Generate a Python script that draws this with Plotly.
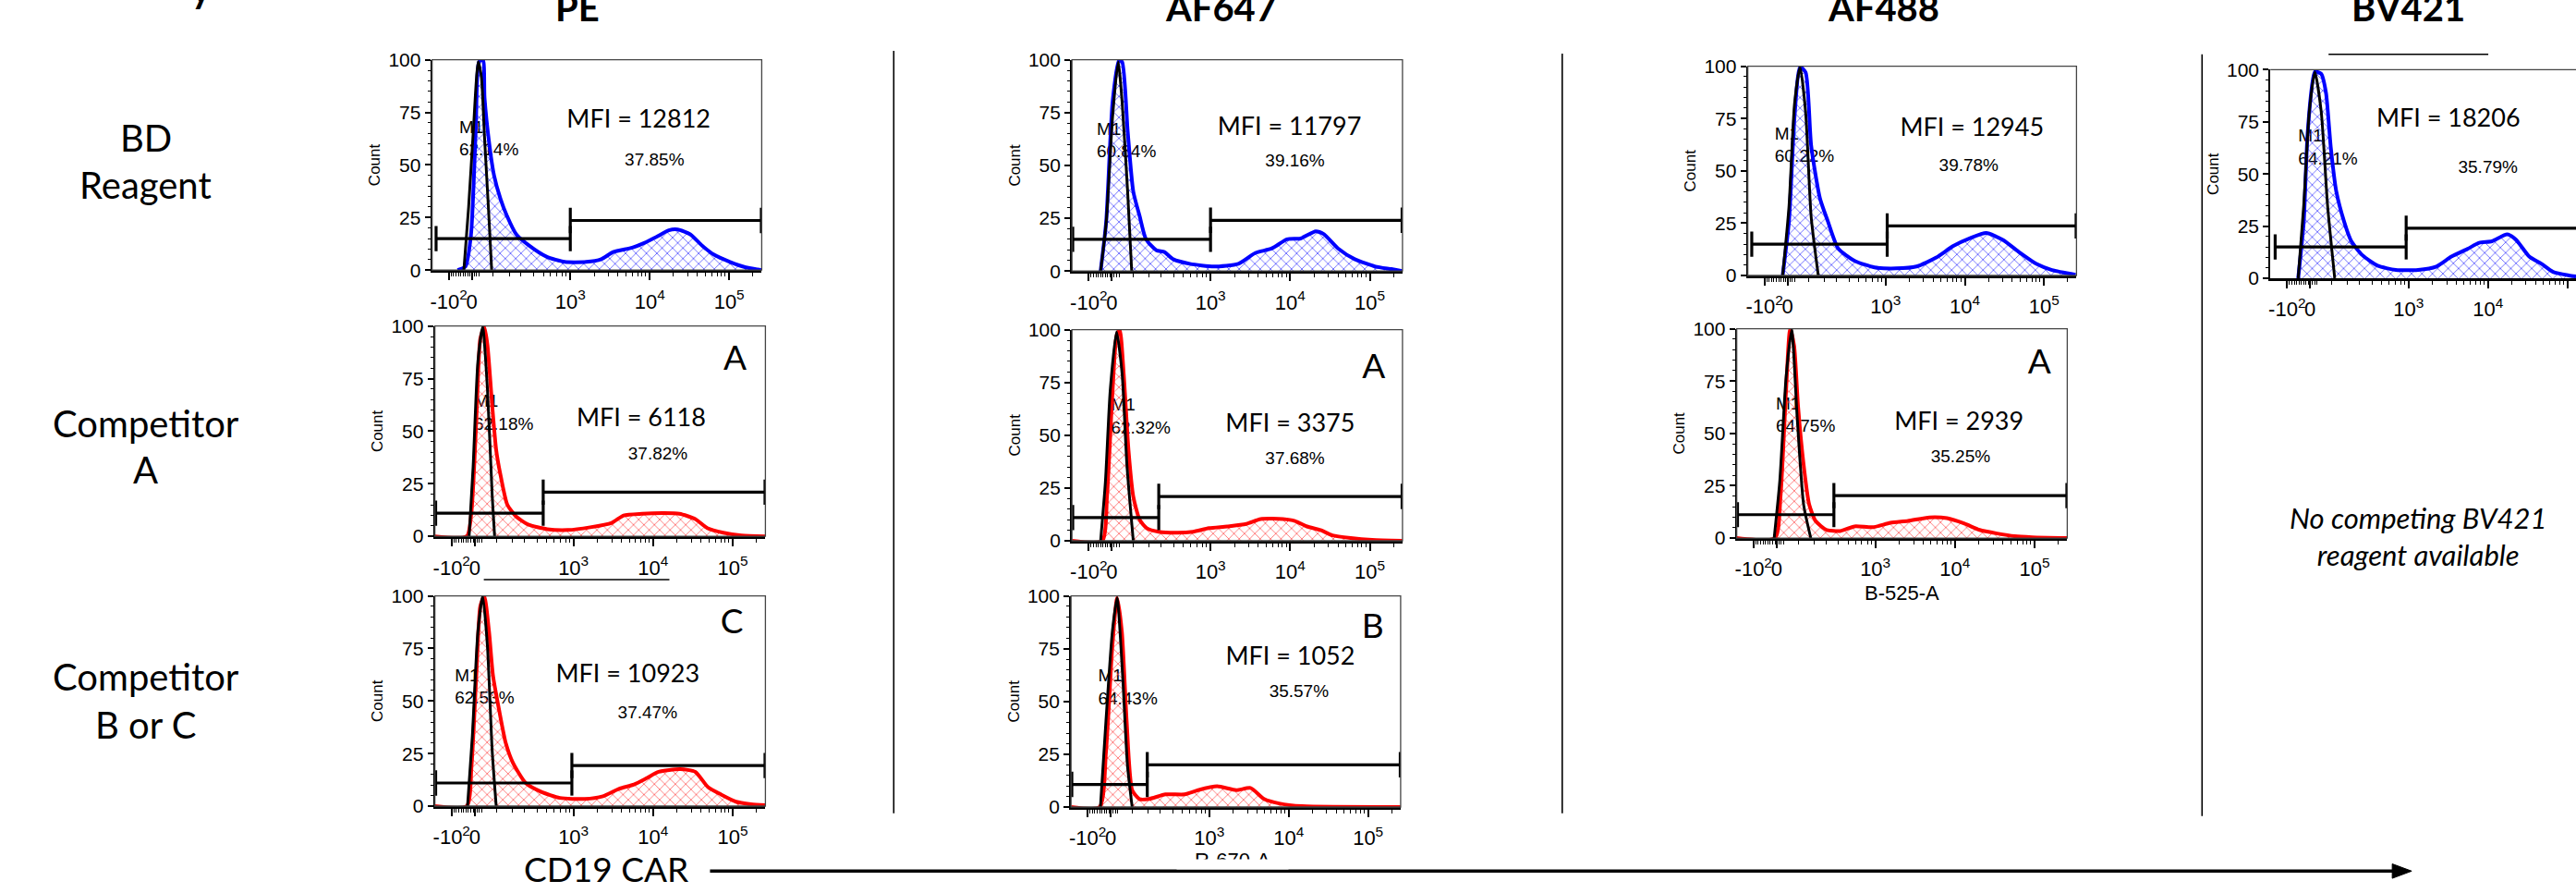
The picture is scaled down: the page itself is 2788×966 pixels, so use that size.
import plotly.graph_objects as go

W, H = 2788, 966

# ---------------- DATA ----------------
# x in display units of the biexponential axis (10^3 -> 3, 10^4 -> 4, 10^5 -> 5), y = Count (% of max)
pe_bd_u = [1.58, 1.68, 1.75, 1.81, 1.85, 1.90, 1.92, 1.98, 2.04, 2.12, 2.20, 2.32, 2.47, 2.70, 2.93, 3.20, 3.39, 3.54, 3.78, 3.93, 4.09, 4.24, 4.35, 4.51, 4.66, 4.81, 5.01, 5.21, 5.36, 5.41]
pe_bd_c = [0, 1.7, 17, 67, 99, 100, 82, 60, 45, 34, 26, 17, 12, 6.4, 3.9, 3.9, 5.2, 8.6, 10.7, 12.9, 15.9, 18.9, 19.3, 17, 11.6, 7.3, 3.9, 1.3, 0.3, 0]
pe_bd_iso_u = [1.66, 1.72, 1.78, 1.84, 1.88, 1.92, 1.97, 2.01]
pe_bd_iso_c = [0, 30, 67, 99, 92, 63, 29, 0]

af647_bd_u = [1.62, 1.69, 1.77, 1.85, 1.89, 1.96, 2.03, 2.11, 2.19, 2.32, 2.42, 2.53, 2.74, 3.04, 3.35, 3.56, 3.77, 3.96, 4.13, 4.32, 4.42, 4.60, 4.81, 5.07, 5.27, 5.41]
af647_bd_c = [0, 23.5, 80, 99.6, 99, 66, 37.6, 26, 15, 9.8, 9, 5.6, 3.4, 2.1, 3.4, 8.5, 10.7, 15, 15.4, 18.8, 17.5, 10.7, 5.6, 2.1, 0.9, 0]
af647_bd_iso_u = [1.62, 1.69, 1.77, 1.84, 1.89, 1.96, 2.01]
af647_bd_iso_c = [0, 23, 73, 99, 80, 37, 0]

af488_bd_u = [1.70, 1.78, 1.85, 1.92, 1.99, 2.06, 2.17, 2.27, 2.40, 2.61, 2.86, 3.13, 3.39, 3.64, 3.85, 4.06, 4.27, 4.48, 4.69, 4.90, 5.10, 5.40]
af488_bd_c = [0, 26, 76, 99.6, 97, 62, 37, 26, 13, 7, 3.9, 3.4, 4.3, 8.6, 14, 17.7, 20.3, 17, 11, 5.6, 2.6, 0.4]
af488_bd_iso_u = [1.70, 1.78, 1.85, 1.92, 1.99, 2.06, 2.15]
af488_bd_iso_c = [0, 33, 82, 99.6, 78, 28, 0]

bv421_bd_u = [1.61, 1.68, 1.73, 1.82, 1.90, 1.96, 2.02, 2.09, 2.19, 2.28, 2.42, 2.61, 2.84, 3.12, 3.35, 3.54, 3.74, 3.89, 4.05, 4.24, 4.35, 4.52, 4.67, 4.82, 5.02, 5.11]
bv421_bd_c = [0, 27, 70, 99, 98, 89, 63, 41.6, 27, 17.7, 11, 6, 4, 4, 5.6, 10.4, 14, 17, 17.7, 21, 18.6, 10.4, 7, 3, 1.3, 0.8]
bv421_bd_iso_u = [1.61, 1.68, 1.75, 1.82, 1.90, 1.98, 2.07]
bv421_bd_iso_c = [0, 35, 80, 99, 80, 35, 0]

pe_a_u = [1.26, 1.66, 1.72, 1.78, 1.83, 1.88, 1.92, 1.98, 2.03, 2.09, 2.17, 2.28, 2.43, 2.67, 2.93, 3.21, 3.48, 3.63, 3.86, 4.14, 4.33, 4.53, 4.68, 4.88, 5.11, 5.41]
pe_a_c = [0, 0, 12, 55, 94, 99.6, 91, 62, 41, 28, 15, 9.4, 5.6, 3.4, 3, 4.3, 6.4, 9.9, 10.7, 11, 10.7, 8.2, 3.9, 1.7, 0.4, 0]
pe_a_iso_u = [1.69, 1.74, 1.80, 1.86, 1.92, 1.98, 2.01]
pe_a_iso_c = [0, 33, 83, 99.6, 70, 19, 0]

af647_a_u = [1.26, 1.64, 1.70, 1.76, 1.82, 1.86, 1.91, 1.97, 2.03, 2.11, 2.20, 2.35, 2.59, 2.78, 2.98, 3.21, 3.45, 3.63, 3.91, 4.06, 4.21, 4.38, 4.53, 4.76, 5.03, 5.41]
af647_a_c = [0, 0, 21, 64, 97, 100, 79, 43, 21, 10, 6, 4.3, 3.8, 4.3, 6, 6.8, 8, 10.3, 10.3, 9.4, 6.8, 5.1, 2.6, 1.3, 0.4, 0]
af647_a_iso_u = [1.62, 1.68, 1.74, 1.82, 1.89, 1.95, 2.03]
af647_a_iso_c = [0, 28, 71, 99, 79, 36, 0]

af488_a_u = [1.26, 1.74, 1.81, 1.88, 1.93, 1.98, 2.03, 2.10, 2.17, 2.25, 2.39, 2.56, 2.74, 2.97, 3.19, 3.41, 3.68, 3.90, 4.12, 4.31, 4.53, 4.75, 4.97, 5.41]
af488_a_c = [0, 0, 20, 71, 99.6, 92, 63, 35, 16, 8.2, 3.9, 3.4, 5.6, 5.2, 7.3, 8.2, 9.9, 9.5, 6.9, 3.9, 2.2, 0.9, 0.4, 0]
af488_a_iso_u = [1.73, 1.80, 1.88, 1.95, 2.02, 2.10, 2.19]
af488_a_iso_c = [0, 27, 77, 99.6, 57, 16, 0]

pe_c_u = [1.26, 1.66, 1.72, 1.78, 1.83, 1.88, 1.94, 1.99, 2.07, 2.15, 2.24, 2.40, 2.59, 2.83, 3.14, 3.37, 3.57, 3.76, 3.92, 4.07, 4.34, 4.53, 4.69, 4.85, 5.04, 5.23, 5.41]
pe_c_c = [0, 0, 19, 62, 95, 100, 83, 62, 45, 30, 20.6, 11, 6.9, 3.9, 3.4, 4.7, 8.2, 10.3, 13.3, 16.3, 17.6, 16.3, 9, 5.6, 2.1, 0.9, 0.4]
pe_c_iso_u = [1.67, 1.73, 1.80, 1.86, 1.92, 1.98, 2.03]
pe_c_iso_c = [0, 33, 83, 100, 76, 26, 0]

af647_b_u = [1.26, 1.62, 1.70, 1.78, 1.84, 1.90, 1.96, 2.03, 2.12, 2.24, 2.45, 2.69, 2.86, 3.10, 3.34, 3.52, 3.69, 3.88, 4.17, 5.41]
af647_b_c = [0, 0, 26, 76, 99, 83, 41, 8, 3.8, 3.8, 6, 6, 8, 9.8, 8, 9, 3.8, 1.7, 0.4, 0]
af647_b_iso_u = [1.63, 1.70, 1.78, 1.84, 1.91, 1.97, 2.03]
af647_b_iso_c = [0, 41, 83, 99, 62, 20, 0]

fluorochromes = ["PE", "AF647", "AF488", "BV421"]
row_label_lines = ["BD", "Reagent", "Competitor", "A", "Competitor", "B or C"]
reagent_source = ["BD", "BD", "BD", "BD", "Comp", "Comp", "Comp", "Comp", "Comp"]
competitor_letter = ["", "", "", "", "A", "A", "A", "C", "B"]
mfi_values = [12812, 11797, 12945, 18206, 6118, 3375, 2939, 10923, 1052]
m1_pct = ["62.14%", "60.84%", "60.22%", "64.21%", "62.18%", "62.32%", "64.75%", "62.53%", "64.43%"]
pos_pct = ["37.85%", "39.16%", "39.78%", "35.79%", "37.82%", "37.68%", "35.25%", "37.47%", "35.57%"]
gate_start = [1.31, 1.27, 1.31, 1.32, 1.27, 1.27, 1.27, 1.27, 1.27]
gate_split = [3.00, 3.00, 3.02, 2.97, 2.62, 2.35, 2.48, 2.98, 2.22]
gate_end = [5.405, 5.405, 5.405, 5.405, 5.405, 5.405, 5.405, 5.405, 5.405]
gate_neg_level = [15, 15, 15, 15, 11, 11, 11.2, 11, 10.7]
gate_pos_level = [23.6, 24, 23.7, 24, 21, 21, 20.3, 19.3, 20]

x_tick_vals = [1.47, 1.76, 3, 4, 5]
x_tick_text = ["-10<sup>2</sup>", "0", "10<sup>3</sup>", "10<sup>4</sup>", "10<sup>5</sup>"]
x_minor_vals = [1.50, 1.53, 1.56, 1.59, 1.62, 1.65, 1.68, 1.71, 1.74, 1.79, 1.82, 1.85,
                2.03, 2.23, 2.38, 2.54, 2.66, 2.75, 2.83, 2.90, 2.95,
                3.30, 3.48, 3.60, 3.70, 3.78, 3.85, 3.90, 3.95,
                4.30, 4.48, 4.60, 4.70, 4.78, 4.85, 4.90, 4.95, 5.30]

sample_u = [pe_bd_u, af647_bd_u, af488_bd_u, bv421_bd_u, pe_a_u, af647_a_u, af488_a_u, pe_c_u, af647_b_u]
sample_c = [pe_bd_c, af647_bd_c, af488_bd_c, bv421_bd_c, pe_a_c, af647_a_c, af488_a_c, pe_c_c, af647_b_c]
iso_u = [pe_bd_iso_u, af647_bd_iso_u, af488_bd_iso_u, bv421_bd_iso_u, pe_a_iso_u, af647_a_iso_u, af488_a_iso_u, pe_c_iso_u, af647_b_iso_u]
iso_c = [pe_bd_iso_c, af647_bd_iso_c, af488_bd_iso_c, bv421_bd_iso_c, pe_a_iso_c, af647_a_iso_c, af488_a_iso_c, pe_c_iso_c, af647_b_iso_c]

# ---------------- LAYOUT (pixel boxes and label positions) ----------------
panel_px = [  # left, right, top, bottom
    (466, 823, 54, 287), (1159, 1517, 54, 288), (1891, 2247, 61, 293), (2457, 2788, 65, 296),
    (469, 827, 349, 582), (1159, 1517, 353, 587), (1879, 2237, 352, 584),
    (469, 827, 648, 881), (1158, 1515, 648, 882),
]
x_ranges = [[1.26, 5.41]] * 3 + [[1.26, 1.26 + 331 / 86.0]] + [[1.26, 5.41]] * 5
m1_pos = [(1.60, 67.4), (1.57, 66.7), (1.60, 67.2), (1.61, 67.5), (1.75, 63.5), (1.75, 63.7), (1.75, 63.4), (1.51, 61.4), (1.60, 61.5)]
pct_dy = 10.7
mfi_pos = [(3.86, 70.8), (3.99, 67.5), (4.09, 69.8), (3.50, 75.8), (3.85, 55.4), (4.00, 54.7), (4.05, 54.7), (3.68, 61.8), (4.02, 70.5)]
pos_pct_pos = [(4.06, 51.9), (4.06, 51.7), (4.05, 52.2), (4.00, 52.8), (4.06, 38.6), (4.06, 38.5), (4.07, 38.4), (3.93, 43.8), (4.13, 54.3)]
letter_pos = [None, None, None, None, (5.03, 83.3), (5.05, 81.2), (5.06, 82.8), (4.99, 86.3), (5.06, 84.2)]
row_label_y = [140, 193, 457, 508, 738, 791]

ARIAL = "Liberation Sans, Arial, sans-serif"
HUMAN = "Lato, Noto Sans, sans-serif"
BLUE, RED = "#0000ff", "#ff0000"


def px(x):
    return x / W


def py(y):
    return 1 - y / H


fig = go.Figure()
layout = dict(width=W, height=H, margin=dict(l=0, r=0, t=0, b=0),
              paper_bgcolor="white", plot_bgcolor="white", showlegend=False)
shapes = []
annotations = []

for i in range(9):
    k = "" if i == 0 else str(i + 1)
    xa, ya = "x" + k, "y" + k
    l, r, t, b = panel_px[i]
    layout["xaxis" + k] = dict(
        domain=[px(l), px(r)], range=x_ranges[i], anchor=ya, showgrid=False, zeroline=False,
        showline=True, linecolor="black", linewidth=3, ticks="outside", ticklen=8, tickwidth=1.5,
        tickcolor="black", tickmode="array", tickvals=x_tick_vals, ticktext=x_tick_text, tickangle=0,
        ticklabelstandoff=4,
        tickfont=dict(family=ARIAL, size=22, color="black"),
        minor=dict(tickmode="array", tickvals=x_minor_vals, ticks="outside", ticklen=4, tickwidth=1, tickcolor="black"),
    )
    layout["yaxis" + k] = dict(
        domain=[py(b), py(t)], range=[0, 100], anchor=xa, showgrid=False, zeroline=False,
        showline=True, linecolor="black", linewidth=2, ticks="outside", ticklen=6, tickwidth=1.5,
        tickcolor="black", tickvals=[0, 25, 50, 75, 100],
        tickfont=dict(family=ARIAL, size=21, color="black"),
        minor=dict(dtick=5, ticks="outside", ticklen=3, tickwidth=1, tickcolor="black"),
        title=dict(text="Count", font=dict(family=ARIAL, size=17, color="black"), standoff=4),
    )
    # frame
    if i == 3:
        shapes.append(dict(type="line", xref=xa + " domain", yref=ya + " domain", x0=0, x1=1, y0=1, y1=1,
                           line=dict(color="#444", width=1.3)))
    else:
        shapes.append(dict(type="rect", xref=xa + " domain", yref=ya + " domain", x0=0, x1=1, y0=0, y1=1,
                           line=dict(color="#444", width=1.3)))

    col = BLUE if reagent_source[i] == "BD" else RED
    fg = "#3a3aff" if reagent_source[i] == "BD" else "#ff4a4a"

    # M1 labels (under the curves)
    mx, my = m1_pos[i]
    fig.add_trace(go.Scatter(x=[mx, mx], y=[my, my - pct_dy], mode="text", text=["M1", m1_pct[i]],
                             textposition="middle right", xaxis=xa, yaxis=ya, cliponaxis=False,
                             textfont=dict(family=ARIAL, size=19, color="black"), hoverinfo="skip"))
    # sample histogram
    fig.add_trace(go.Scatter(x=sample_u[i], y=sample_c[i], mode="lines", xaxis=xa, yaxis=ya,
                             line=dict(color=col, width=4, shape="spline", smoothing=0.6),
                             fill="tozeroy", fillcolor="rgba(255,255,255,0)",
                             fillpattern=dict(shape="x", fgcolor=fg, fgopacity=0.75, bgcolor="rgba(255,255,255,0)",
                                              size=8, solidity=0.22),
                             hoverinfo="skip"))
    # isotype
    fig.add_trace(go.Scatter(x=iso_u[i], y=iso_c[i], mode="lines", xaxis=xa, yaxis=ya,
                             line=dict(color="black", width=3, shape="spline", smoothing=0.6), hoverinfo="skip"))
    # gates
    L1, L2 = gate_neg_level[i], gate_pos_level[i]
    g0, g1, g2 = gate_start[i], gate_split[i], gate_end[i]
    cap = 6
    fig.add_trace(go.Scatter(
        x=[g0, g1, None, g0, g0, None, g1, g1, None, g1, g2, None, g1, g1, None, g2, g2],
        y=[L1, L1, None, L1 - cap, L1 + cap, None, L1 - cap, L1 + cap, None, L2, L2, None, L2 - cap, L2 + cap, None, L2 - cap, L2 + cap],
        mode="lines", line=dict(color="black", width=3.2), xaxis=xa, yaxis=ya, hoverinfo="skip"))
    # MFI and positive %
    fig.add_trace(go.Scatter(x=[mfi_pos[i][0]], y=[mfi_pos[i][1]], mode="text", text=[f"MFI = {mfi_values[i]}"],
                             textposition="middle center", xaxis=xa, yaxis=ya, cliponaxis=False,
                             textfont=dict(family=HUMAN, size=27, color="black"), hoverinfo="skip"))
    fig.add_trace(go.Scatter(x=[pos_pct_pos[i][0]], y=[pos_pct_pos[i][1]], mode="text", text=[pos_pct[i]],
                             textposition="middle center", xaxis=xa, yaxis=ya, cliponaxis=False,
                             textfont=dict(family=ARIAL, size=19, color="black"), hoverinfo="skip"))
    if letter_pos[i] is not None:
        fig.add_trace(go.Scatter(x=[letter_pos[i][0]], y=[letter_pos[i][1]], mode="text", text=[competitor_letter[i]],
                                 textposition="middle center", xaxis=xa, yaxis=ya, cliponaxis=False,
                                 textfont=dict(family=HUMAN, size=37, color="black"), hoverinfo="skip"))

# column headers (cut at the top edge, as in the source figure)
header_x = [623, 1320, 2038, 2606]
for name, hx in zip(fluorochromes, header_x):
    annotations.append(dict(text=f"<b>{name}</b>", x=px(hx), y=py(23), xref="paper", yref="paper",
                            xanchor="center", yanchor="bottom", showarrow=False,
                            font=dict(family=HUMAN, size=40, color="black")))
annotations.append(dict(text="<b>y</b>", x=px(216), y=py(2), xref="paper", yref="paper",
                        xanchor="center", yanchor="bottom", showarrow=False,
                        font=dict(family=HUMAN, size=40, color="black")))

# row labels (one annotation per line)
for lab, ry in zip(row_label_lines, row_label_y):
    annotations.append(dict(text=lab, x=px(156), y=py(ry), xref="paper", yref="paper",
                            xanchor="center", yanchor="middle", showarrow=False,
                            font=dict(family=HUMAN, size=40, color="black")))

annotations.append(dict(text="<i>No competing BV421<br>reagent available</i>", x=px(2617), y=py(582),
                        xref="paper", yref="paper", xanchor="center", yanchor="middle", showarrow=False,
                        font=dict(family=HUMAN, size=31, color="black")))
annotations.append(dict(text="CD19 CAR", x=px(654), y=py(950), xref="paper", yref="paper",
                        xanchor="center", yanchor="middle", showarrow=False,
                        font=dict(family=HUMAN, size=37, color="black")))
annotations.append(dict(text="B-525-A", x=px(2058), y=py(645), xref="paper", yref="paper",
                        xanchor="center", yanchor="middle", showarrow=False,
                        font=dict(family=ARIAL, size=22, color="black")))
annotations.append(dict(text="R-670-A", x=px(1333), y=py(941), xref="paper", yref="paper",
                        xanchor="center", yanchor="middle", showarrow=False,
                        font=dict(family=ARIAL, size=22, color="black")))
annotations.append(dict(text="&nbsp;", x=px(1333), y=py(939), xref="paper", yref="paper",
                        xanchor="center", yanchor="top", showarrow=False, width=120, height=10,
                        bgcolor="white", borderpad=0, font=dict(size=6)))

# separators and decorative lines
for sx, sy0, sy1 in [(966, 44, 889), (1690, 47, 889), (2383, 48, 892)]:
    shapes.append(dict(type="line", xref="paper", yref="paper", x0=px(sx), x1=px(sx), y0=py(sy0), y1=py(sy1),
                       line=dict(color="black", width=1.6)))
shapes.append(dict(type="line", xref="paper", yref="paper", x0=px(2520), x1=px(2693), y0=py(48), y1=py(48),
                   line=dict(color="black", width=1.5)))
shapes.append(dict(type="line", xref="paper", yref="paper", x0=px(522), x1=px(723), y0=py(630), y1=py(630),
                   line=dict(color="black", width=1.5)))
# arrow
shapes.append(dict(type="line", xref="paper", yref="paper", x0=px(767), x1=px(2595), y0=py(953), y1=py(953),
                   line=dict(color="black", width=3.5)))
shapes.append(dict(type="path", xref="paper", yref="paper",
                   path=f"M {px(2589)} {py(945)} L {px(2610)} {py(953)} L {px(2589)} {py(961)} Z",
                   fillcolor="black", line=dict(color="black", width=1)))

layout["shapes"] = shapes
layout["annotations"] = annotations
fig.update_layout(**layout)

fig.write_html("out.html", config={"displayModeBar": False},
               post_script="document.body.style.margin='0';document.body.style.overflow='hidden';")
